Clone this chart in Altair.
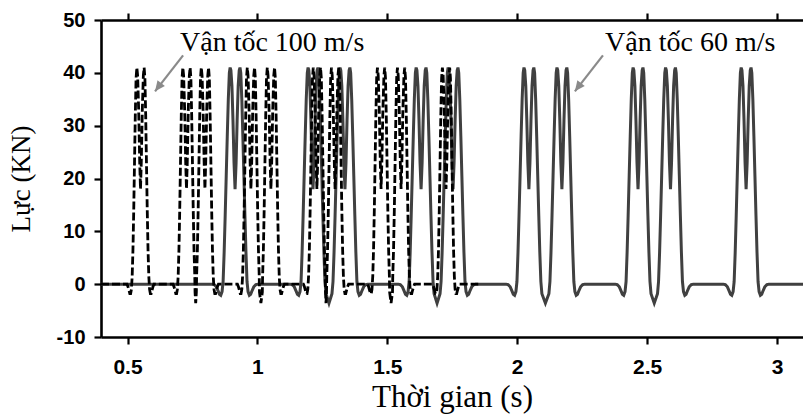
import altair as alt
import pandas as pd

# ---- values ----
# bogie (double-axle) peak centres, seconds
SOLID_CENTERS = [0.914, 1.214, 1.337, 1.630, 1.753, 2.045, 2.172, 2.465, 2.590, 2.881]   # 60 m/s
DASHED_CENTERS = [0.550, 0.727, 0.798, 0.975, 1.052, 1.229, 1.299, 1.476, 1.553, 1.726]  # 100 m/s

# half profile of one bogie pulse (offset from centre in ms -> force kN), 60 m/s
SOLID_CORE_MS = [0, 4, 8, 12, 16, 19, 22, 26, 30, 34, 38, 42, 46]
SOLID_CORE_KN = [18, 23, 31, 37.5, 40.5, 41, 40, 35, 28, 20.5, 13, 6, 0.5]
SOLID_TAIL_MS = [50, 55, 60, 65, 72, 80, 88]
SOLID_TAIL_KN = [-1.4, -2.1, -1.9, -1.3, -0.5, -0.1, 0.0]
SOLID_V_MS = 50
SOLID_V_KN = [-1.8, -3.6]

# half profile of one bogie pulse, 100 m/s
DASH_CORE_MS = [0, 3, 7, 11, 14, 17, 20, 23, 26, 29, 32]
DASH_CORE_KN = [18, 23, 33, 39.5, 41, 39, 32, 23, 14, 6.5, 1.5]
DASH_TAIL_MS = [35, 38, 41, 44, 48, 52]
DASH_TAIL_KN = [-1.0, -1.8, -1.8, -1.2, -0.5, 0.0]
DASH_V_MS = 33
DASH_V_KN = [-1.5, -3.6]

SOLID_RANGE = [0.398, 3.1]
DASHED_RANGE = [0.398, 1.85]

X_TICKS = [0.5, 1, 1.5, 2, 2.5, 3]
Y_TICKS = [-10, 0, 10, 20, 30, 40, 50]

ANN_LABELS = ["Vận tốc 100 m/s", "Vận tốc 60 m/s"]
ANN_T = [0.702, 2.338]
ANN_F = [44.2, 44.2]
ARROW_T0 = [0.714, 2.330]
ARROW_F0 = [43.3, 43.3]
ARROW_T1 = [0.606, 2.222]
ARROW_F1 = [36.5, 36.5]


def build(centers, core_ms, core_kn, tail_ms, tail_kn, v_ms, v_kn, rng, close_gap):
    pts = [(rng[0], 0.0)]
    n = len(centers)
    for i, c in enumerate(centers):
        close_prev = i > 0 and c - centers[i - 1] < close_gap
        close_next = i < n - 1 and centers[i + 1] - c < close_gap
        if not close_prev:
            for ms, kn in reversed(list(zip(tail_ms, tail_kn))):
                pts.append((c - ms / 1000, kn))
        for ms, kn in reversed(list(zip(core_ms[1:], core_kn[1:]))):
            pts.append((c - ms / 1000, kn))
        pts.append((c, core_kn[0]))
        for ms, kn in zip(core_ms[1:], core_kn[1:]):
            pts.append((c + ms / 1000, kn))
        if close_next:
            nxt = centers[i + 1]
            pts.append((c + v_ms / 1000, v_kn[0]))
            pts.append(((c + nxt) / 2, v_kn[1]))
            pts.append((nxt - v_ms / 1000, v_kn[0]))
        else:
            for ms, kn in zip(tail_ms, tail_kn):
                pts.append((c + ms / 1000, kn))
    pts.append((rng[1], 0.0))
    return pd.DataFrame(pts, columns=["t", "f"])


df_solid = build(SOLID_CENTERS, SOLID_CORE_MS, SOLID_CORE_KN, SOLID_TAIL_MS, SOLID_TAIL_KN,
                 SOLID_V_MS, SOLID_V_KN, SOLID_RANGE, 0.2)
df_dash = build(DASHED_CENTERS, DASH_CORE_MS, DASH_CORE_KN, DASH_TAIL_MS, DASH_TAIL_KN,
                DASH_V_MS, DASH_V_KN, DASHED_RANGE, 0.12)
df_ann = pd.DataFrame({"t": ANN_T, "f": ANN_F, "label": ANN_LABELS})
df_arrow = pd.DataFrame({"t0": ARROW_T0, "f0": ARROW_F0, "t1": ARROW_T1, "f1": ARROW_F1})
df_top = pd.DataFrame({"t": X_TICKS})

x_scale = alt.Scale(domain=[0.398, 3.1], nice=False, zero=False)
y_scale = alt.Scale(domain=[-10, 50], nice=False, zero=False)

y_axis = alt.Axis(values=Y_TICKS, title="Lực (KN)", labelExpr="'' + datum.value",
                  titlePadding=21, labelPadding=9, titleFontSize=27, labelFontSize=20)
bottom_axis = alt.Axis(values=X_TICKS, title="Thời gian (s)", labelExpr="'' + datum.value",
                       labelPadding=12, titlePadding=5, titleFontSize=31, labelFontSize=21)
top_axis = alt.Axis(orient="top", values=X_TICKS, labels=False, title=None)

solid = alt.Chart(df_solid).mark_line(color="#404040", strokeWidth=3, clip=True).encode(
    x=alt.X("t:Q", scale=x_scale, axis=bottom_axis),
    y=alt.Y("f:Q", scale=y_scale, axis=y_axis),
)
dashed = alt.Chart(df_dash).mark_line(color="#000000", strokeWidth=2.8, strokeDash=[8, 3],
                                      clip=True).encode(
    x=alt.X("t:Q", scale=x_scale, axis=None),
    y=alt.Y("f:Q", scale=y_scale, axis=y_axis),
)
top = alt.Chart(df_top).mark_point(opacity=0).encode(
    x=alt.X("t:Q", scale=x_scale, axis=top_axis),
)
arrows = alt.Chart(df_arrow).mark_rule(color="#8a8a8a", strokeWidth=2.2).encode(
    x=alt.X("t0:Q", scale=x_scale, axis=None),
    y=alt.Y("f0:Q", scale=y_scale, axis=y_axis),
    x2="t1:Q",
    y2="f1:Q",
)
heads = alt.Chart(df_arrow).mark_point(
    shape="M0,0 L-0.45,1 L0.45,1 Z", filled=True, color="#8a8a8a", opacity=1,
    size=420, angle=216.9, strokeWidth=0,
).encode(
    x=alt.X("t1:Q", scale=x_scale, axis=None),
    y=alt.Y("f1:Q", scale=y_scale, axis=y_axis),
)
texts = alt.Chart(df_ann).mark_text(
    align="left", baseline="alphabetic", font="Liberation Serif", fontSize=28, color="black",
).encode(
    x=alt.X("t:Q", scale=x_scale, axis=None),
    y=alt.Y("f:Q", scale=y_scale, axis=y_axis),
    text="label:N",
)

chart = alt.layer(solid, dashed, arrows, heads, texts, top).resolve_axis(
    x="independent"
).properties(
    width=702, height=317,
    autosize=alt.AutoSizeParams(type="none"),
    padding={"left": 101, "top": 20, "right": 0, "bottom": 80},
).configure_view(stroke=None).configure_axis(
    grid=False,
    domainColor="black", domainWidth=2.6,
    tickColor="black", tickWidth=2.2, tickSize=7,
    labelFont="Liberation Sans", labelFontWeight="bold", labelColor="black",
    titleFont="Liberation Serif", titleFontWeight="normal", titleColor="black",
)

chart.save("out.html", embed_options={"renderer": "svg", "actions": False})
